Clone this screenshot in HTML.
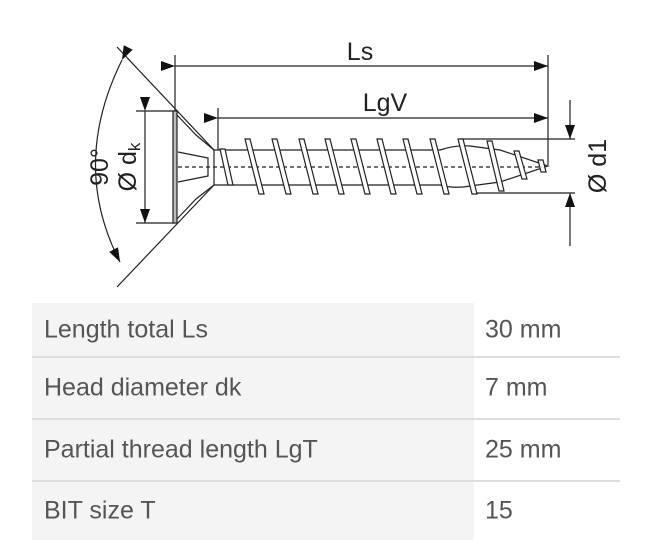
<!DOCTYPE html>
<html><head><meta charset="utf-8"><style>
html,body{margin:0;padding:0;background:#fff;width:647px;height:556px;overflow:hidden;font-family:"Liberation Sans",sans-serif}
.t{position:absolute;left:32px;width:588px}
.r{position:absolute;left:0;width:588px;border-bottom:2px solid #ddd;box-sizing:border-box}
.r .a{position:absolute;left:0;top:0;bottom:0;width:442px;background:#f4f4f4}
.r span{position:absolute;font-size:25px;color:#555;top:50%;transform:translateY(-50%)}
</style></head><body>
<svg width="647" height="300" style="position:absolute;left:0;top:0" font-family="Liberation Sans Narrow, Liberation Sans, sans-serif">
<defs><marker id="ar" markerWidth="14" markerHeight="10" refX="14" refY="5" orient="auto" markerUnits="userSpaceOnUse"><path d="M0,0L14,5L0,10z" fill="#111"/></marker></defs>
<g stroke="#222" stroke-width="1.2" fill="none">
<line x1="175" y1="55" x2="175" y2="223"/>
<line x1="548" y1="55" x2="548" y2="165"/>
<line x1="218" y1="108" x2="218" y2="150"/>
<line x1="175" y1="66" x2="548" y2="66" marker-start="url(#ar)" marker-end="url(#ar)"/>
<line x1="218" y1="118" x2="548" y2="118" marker-start="url(#ar)" marker-end="url(#ar)"/>
<line x1="136" y1="111" x2="175" y2="111"/><line x1="136" y1="223" x2="175" y2="223"/>
<line x1="145" y1="111" x2="145" y2="223" marker-start="url(#ar)" marker-end="url(#ar)"/>
<line x1="460" y1="139" x2="575" y2="139"/><line x1="475" y1="193" x2="575" y2="193"/>
<line x1="570" y1="100" x2="570" y2="139" marker-end="url(#ar)"/>
<line x1="570" y1="246" x2="570" y2="193" marker-end="url(#ar)"/>
<line x1="117" y1="47" x2="214" y2="150"/>
<line x1="117" y1="287" x2="214" y2="185"/>
<path d="M122,60 Q70,165 120,262" marker-start="url(#ar)" marker-end="url(#ar)"/>
<rect x="173" y="111" width="4" height="112" fill="#bbb"/>
<path d="M177,115 L196,135 L214,150 M177,219 L196,199 L214,185"/>
<path d="M178,152 L208,158 L208,176 L178,182"/>
<line x1="178" y1="167" x2="540" y2="167" stroke-dasharray="4,3"/>
<path d="M214,150 L440,150 Q455,145 470,146 L500,150 L548,166 L500,182 L470,186 Q455,189 440,185 L214,185"/>
<line x1="214" y1="150" x2="214" y2="185"/>
</g>
<g stroke="#222" stroke-width="1.2" fill="#fff">
<path d="M220,149 l5,0 l8,36 l-5,0z"/>
<path d="M245,139 l5,0 l14,55 l-5,0z"/>
<path d="M272,139 l5,0 l14,55 l-5,0z"/>
<path d="M299,139 l5,0 l14,55 l-5,0z"/>
<path d="M325,139 l5,0 l14,55 l-5,0z"/>
<path d="M351,139 l5,0 l14,55 l-5,0z"/>
<path d="M377,139 l5,0 l14,55 l-5,0z"/>
<path d="M403,139 l5,0 l14,55 l-5,0z"/>
<path d="M430,139 l5,0 l14,55 l-5,0z"/>
<path d="M458,139 l5,0 l14,55 l-5,0z"/>
<path d="M487,141 l5,0 l12,50 l-5,0z"/>
<path d="M514,151 l5,0 l8,28 l-5,0z"/>
<path d="M538,160 l5,0 l3,12 l-5,0z"/>
</g>
<g fill="#222">
<text x="360" y="60" font-size="25" text-anchor="middle">Ls</text>
<text x="385" y="111" font-size="25" text-anchor="middle">LgV</text>
<text transform="translate(108,167) rotate(-90)" font-size="25" text-anchor="middle">90°</text>
<text transform="translate(136,167) rotate(-90)" font-size="25" text-anchor="middle">Ø d<tspan font-size="17" dy="4">k</tspan></text>
<text transform="translate(606,166) rotate(-90)" font-size="25" text-anchor="middle">Ø d1</text>
</g>
</svg>
<div class="t" style="top:303px">
<div class="r" style="top:0;height:55px"><div class="a"></div><span style="left:12px">Length total Ls</span><span style="left:453px">30 mm</span></div>
<div class="r" style="top:55px;height:62px"><div class="a"></div><span style="left:12px">Head diameter dk</span><span style="left:453px">7 mm</span></div>
<div class="r" style="top:117px;height:62px"><div class="a"></div><span style="left:12px">Partial thread length LgT</span><span style="left:453px">25 mm</span></div>
<div class="r" style="top:179px;height:58px;border-bottom:none"><div class="a"></div><span style="left:12px">BIT size T</span><span style="left:453px">15</span></div>
</div>
</body></html>
